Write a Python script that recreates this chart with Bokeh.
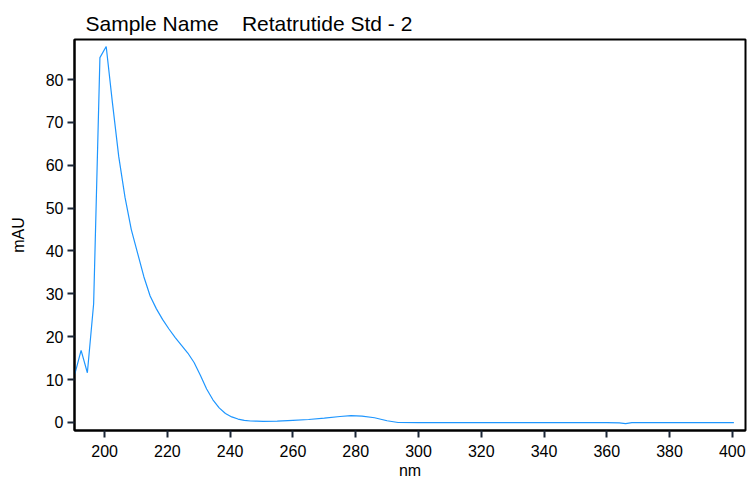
from bokeh.plotting import figure
from bokeh.models import Range1d, FixedTicker
from bokeh.embed import file_html
from bokeh.resources import INLINE

# Spectrum readings (nm, mAU)
wavelength = [190.5, 192.5, 194.5, 196.5, 198.5, 200.5, 202.5, 204.5, 206.5, 208.5,
              210.5, 212.5, 214.5, 216.5, 218.5, 220.5, 222.5, 224.5, 226.5, 228.5,
              230.5, 232.5, 234.5, 236.5, 238.5, 240.5, 242.5, 244.5, 246.5, 248.5,
              250.5, 255, 260, 265, 270, 275, 278.5, 282, 286, 290,
              293.5, 300, 320, 340, 360, 364, 366, 368, 380, 400.5]
absorbance = [11.3, 16.8, 11.6, 27.7, 85.1, 87.7, 74.5, 62.0, 52.5, 45.0,
              39.5, 34.0, 29.5, 26.5, 24.0, 21.8, 19.8, 18.0, 16.2, 14.0,
              11.0, 7.8, 5.3, 3.4, 2.1, 1.3, 0.8, 0.5, 0.35, 0.3,
              0.25, 0.3, 0.5, 0.7, 1.0, 1.4, 1.6, 1.5, 1.1, 0.4,
              0.0, -0.05, -0.05, -0.05, -0.05, -0.1, -0.25, -0.05, -0.05, -0.05]

x_ticks = [200, 220, 240, 260, 280, 300, 320, 340, 360, 380, 400]
y_ticks = [0, 10, 20, 30, 40, 50, 60, 70, 80]

title_text = "Sample Name\u00a0\u00a0\u00a0\u00a0Retatrutide Std - 2"
FONT = "Liberation Sans"

p = figure(frame_width=671, frame_height=391,
           x_range=Range1d(190.4, 404.2), y_range=Range1d(-1.87, 89.33),
           output_backend="svg", toolbar_location=None,
           min_border_left=74, min_border_right=4, min_border_top=39, min_border_bottom=50,
           background_fill_color="white", border_fill_color="white")

p.line(wavelength, absorbance, line_color="#1e96ff", line_width=1.2)

p.title.text = title_text
p.title.text_font = FONT
p.title.text_font_size = "21px"
p.title.text_font_style = "normal"
p.title.text_color = "black"
p.title.offset = 11
p.title.standoff = 10

p.xgrid.visible = False
p.ygrid.visible = False
p.outline_line_color = "black"
p.outline_line_width = 2
p.outline_line_alpha = 1.0

for ax in (p.xaxis[0], p.yaxis[0]):
    ax.axis_line_color = "black"
    ax.axis_line_width = 2
    ax.major_tick_line_color = "#1a2535"
    ax.major_tick_line_width = 2
    ax.major_tick_out = 7
    ax.major_tick_in = 0
    ax.minor_tick_line_color = None
    ax.major_label_text_font = FONT
    ax.major_label_text_font_size = "16px"
    ax.major_label_text_color = "black"
    ax.axis_label_text_font = FONT
    ax.axis_label_text_font_size = "16px"
    ax.axis_label_text_font_style = "normal"
    ax.axis_label_text_color = "black"

p.xaxis.major_label_standoff = 7
p.xaxis.axis_label_standoff = 2
p.yaxis.major_label_standoff = 4
p.yaxis.axis_label_standoff = 16

p.xaxis.ticker = FixedTicker(ticks=x_ticks)
p.yaxis.ticker = FixedTicker(ticks=y_ticks)
p.xaxis.axis_label = "nm"
p.yaxis.axis_label = "mAU"

open("out.html", "w").write(file_html(p, INLINE))
